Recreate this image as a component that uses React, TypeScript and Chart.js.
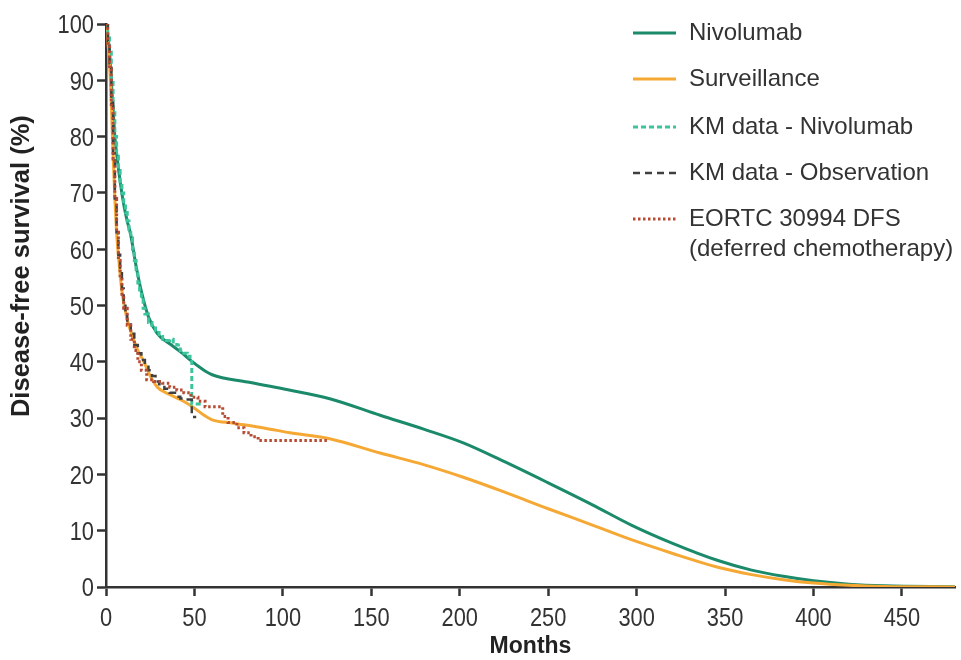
import React, { useEffect, useRef } from "react";
import { Chart, registerables } from "chart.js";

Chart.register(...registerables);

// ---- axis ticks ----
const xTickValues = [0, 50, 100, 150, 200, 250, 300, 350, 400, 450];
const yTickValues = [0, 10, 20, 30, 40, 50, 60, 70, 80, 90, 100];

// ---- axis titles ----
const xTitle = "Months";
const yTitle = "Disease-free survival (%)";

// ---- series labels ----
const seriesLabels = [
  "Nivolumab",
  "Surveillance",
  "KM data - Nivolumab",
  "KM data - Observation",
  "EORTC 30994 DFS\n(deferred chemotherapy)",
];

// ---- Nivolumab model curve ----
const nivoMonths = [0, 1, 2, 3, 4, 5, 6, 8, 10, 12, 14, 17, 20, 24, 29, 36, 42, 48, 54, 60, 80, 100, 127, 155, 180, 202, 225, 250, 275, 297, 320, 346, 365, 383, 400, 420, 440, 480];
const nivoDfs = [100, 98, 95, 90, 85, 80, 77, 72, 68, 65, 62.5, 57, 52.5, 48, 45, 43.2, 41.8, 40.2, 38.8, 37.7, 36.4, 35.2, 33.4, 30.5, 28, 25.6, 22.3, 18.5, 14.6, 11, 7.8, 4.7, 3, 1.9, 1.1, 0.5, 0.2, 0.05];

// ---- Surveillance model curve ----
const survMonths = [0, 1, 2, 3, 4, 5, 6, 7, 9, 12, 15, 18, 21, 25, 29, 36, 42, 48, 55, 60, 72, 90, 104, 127, 155, 180, 202, 225, 250, 275, 297, 320, 346, 365, 383, 400, 420, 440, 480];
const survDfs = [100, 97, 93, 86, 77, 69, 63, 59, 52.5, 47.5, 44.5, 42, 40.3, 37.5, 35.5, 34.2, 33.3, 32.2, 30.6, 29.7, 29.1, 28.2, 27.4, 26.3, 23.8, 21.7, 19.5, 16.9, 13.9, 11, 8.4, 6, 3.5, 2.2, 1.3, 0.7, 0.3, 0.1, 0];

// ---- KM data - Nivolumab ----
const kmNivoMonths = [0, 1, 2, 3, 4, 5, 6, 7, 8, 9, 10, 11, 12, 13, 14, 15, 16, 17, 18, 19, 20, 21, 22, 24, 26, 28, 30, 32, 34, 36, 38, 40, 42, 44, 46, 47.5, 48.5, 54];
const kmNivoDfs = [100, 98, 95, 90, 85, 80, 76.5, 74, 72, 70, 68, 66.5, 65, 63.5, 62, 60, 58, 56, 54, 52.5, 51, 49.5, 48.5, 47, 46, 45.5, 44.5, 44, 43.8, 44, 43.5, 43, 42, 41.5, 41, 40.5, 32.5, 32.5];

// ---- KM data - Observation ----
const kmObsMonths = [0, 1, 2, 3, 4, 5, 6, 7, 8, 9, 10, 11, 12, 14, 16, 18, 20, 22, 24, 26, 28, 30, 33, 36, 39, 42, 45, 48.5, 51];
const kmObsDfs = [100, 97, 93, 86, 77, 69, 63, 59, 56, 53, 50.5, 48.5, 47, 45, 43, 41.5, 40.3, 39.5, 38.5, 37.5, 36.5, 36, 35.2, 34.5, 33.8, 33.5, 33.3, 30.2, 30.2];

// ---- EORTC 30994 DFS (deferred chemotherapy) ----
const eortcMonths = [0, 1, 2, 3, 4, 5, 6, 7, 8, 9, 10, 12, 14, 16, 18, 20, 23, 27, 32, 36, 40, 44, 48, 52, 56, 66, 69, 74, 78, 82, 86, 126];
const eortcDfs = [100, 96, 92, 85, 76, 69, 63, 58, 55, 52, 49.5, 46.5, 44, 42, 40, 38.5, 36.8, 36.5, 36.2, 35.5, 35, 34.5, 33.7, 33, 32, 30.3, 29.2, 28.3, 27.4, 26.7, 26, 26];

const TEXT_FONT = '"Liberation Sans", Arial, Helvetica, sans-serif';

function pts(xs: number[], ys: number[]) {
  return xs.map((x, i) => ({ x, y: ys[i] }));
}

export default function App() {
  const canvasRef = useRef<HTMLCanvasElement>(null);

  useEffect(() => {
    const canvas = canvasRef.current;
    if (!canvas) return;

    // legend drawn inside the plot, top-right
    const legendPlugin = {
      id: "insideLegend",
      afterDraw(chart: any) {
        const ctx = chart.ctx;
        const area = chart.chartArea;
        const x0 = area.right - 322;
        const x1 = area.right - 279;
        const tx = area.right - 266;
        const rowY = [33, 79, 127, 173, 219];
        ctx.save();
        chart.data.datasets.forEach((ds: any, i: number) => {
          const y = rowY[i];
          ctx.strokeStyle = ds.borderColor;
          ctx.lineWidth = ds.borderWidth;
          ctx.setLineDash(ds.borderDash || []);
          ctx.beginPath();
          ctx.moveTo(x0, y);
          ctx.lineTo(x1, y);
          ctx.stroke();
          ctx.setLineDash([]);
          ctx.fillStyle = "#333";
          ctx.font = "24px " + TEXT_FONT;
          ctx.textBaseline = "middle";
          ctx.textAlign = "left";
          String(ds.label)
            .split("\n")
            .forEach((t: string, j: number) => ctx.fillText(t, tx, y + j * 30));
        });
        ctx.restore();
      },
    };

    // condensed tick labels and the y-axis title
    const axisTextPlugin = {
      id: "axisText",
      afterDraw(chart: any) {
        const ctx = chart.ctx;
        const xs = chart.scales.x;
        const ys = chart.scales.y;
        const sx = 0.84;
        ctx.save();
        ctx.fillStyle = "#333";
        ctx.font = "26px " + TEXT_FONT;
        ctx.textBaseline = "alphabetic";
        xs.ticks.forEach((t: any) => {
          const px = xs.getPixelForValue(t.value);
          ctx.save();
          ctx.translate(px, xs.top + 39);
          ctx.scale(sx, 1);
          ctx.textAlign = "center";
          ctx.fillText(String(t.value), 0, 0);
          ctx.restore();
        });
        ys.ticks.forEach((t: any) => {
          const py = ys.getPixelForValue(t.value);
          ctx.save();
          ctx.translate(ys.right - 12, py + 9.3);
          ctx.scale(sx, 1);
          ctx.textAlign = "right";
          ctx.fillText(String(t.value), 0, 0);
          ctx.restore();
        });
        // y title (rotated)
        ctx.save();
        ctx.fillStyle = "#222";
        ctx.font = "bold 25.5px " + TEXT_FONT;
        ctx.translate(22, ys.getPixelForValue(57));
        ctx.rotate(-Math.PI / 2);
        ctx.textAlign = "center";
        ctx.textBaseline = "middle";
        ctx.fillText(yTitle, 0, 0);
        ctx.restore();
        ctx.restore();
      },
    };

    const axisCommon = {
      grid: {
        display: true,
        drawOnChartArea: false,
        drawTicks: true,
        tickLength: 9,
        tickWidth: 2.5,
        tickColor: "#333",
        color: "#333",
      },
      border: { display: true, color: "#333", width: 2.5 },
    };

    const chart = new Chart(canvas, {
      type: "line",
      data: {
        datasets: [
          {
            label: seriesLabels[0],
            data: pts(nivoMonths, nivoDfs),
            borderColor: "#1b8a6b",
            borderWidth: 3,
            pointRadius: 0,
            cubicInterpolationMode: "monotone",
            order: 5,
          },
          {
            label: seriesLabels[1],
            data: pts(survMonths, survDfs),
            borderColor: "#f5a833",
            borderWidth: 3,
            pointRadius: 0,
            cubicInterpolationMode: "monotone",
            order: 4,
          },
          {
            label: seriesLabels[2],
            data: pts(kmNivoMonths, kmNivoDfs),
            borderColor: "#3cc49c",
            borderWidth: 3,
            borderDash: [5, 3],
            pointRadius: 0,
            stepped: "before",
            order: 3,
          },
          {
            label: seriesLabels[3],
            data: pts(kmObsMonths, kmObsDfs),
            borderColor: "#404040",
            borderWidth: 2.5,
            borderDash: [7, 5],
            pointRadius: 0,
            stepped: "before",
            order: 2,
          },
          {
            label: seriesLabels[4],
            data: pts(eortcMonths, eortcDfs),
            borderColor: "#b64a32",
            borderWidth: 3,
            borderDash: [2.5, 2.5],
            pointRadius: 0,
            stepped: "before",
            order: 1,
          },
        ] as any,
      },
      options: {
        responsive: false,
        maintainAspectRatio: false,
        animation: false,
        layout: { padding: { top: 24, right: 6, bottom: 0, left: 0 } },
        plugins: {
          legend: { display: false },
          tooltip: { enabled: false },
        },
        scales: {
          x: {
            type: "linear",
            min: 0,
            max: 480,
            afterBuildTicks: (s: any) => {
              s.ticks = xTickValues.map((v) => ({ value: v }));
            },
            afterFit: (s: any) => {
              s.height = 73;
            },
            ticks: { display: false, autoSkip: false, maxRotation: 0 },
            title: {
              display: true,
              text: xTitle,
              color: "#222",
              font: { family: TEXT_FONT, size: 23, weight: "bold" },
              padding: { top: 0, bottom: 0 },
            },
            ...axisCommon,
          },
          y: {
            type: "linear",
            min: 0,
            max: 100,
            afterBuildTicks: (s: any) => {
              s.ticks = yTickValues.map((v) => ({ value: v }));
            },
            afterFit: (s: any) => {
              s.width = 106;
            },
            ticks: { display: false, autoSkip: false },
            title: { display: false },
            ...axisCommon,
          },
        } as any,
      },
      plugins: [legendPlugin, axisTextPlugin],
    });

    return () => chart.destroy();
  }, []);

  return (
    <div style={{ position: "absolute", left: 0, top: 0, width: 961, height: 660, background: "#fff" }}>
      <canvas ref={canvasRef} width={961} height={660} style={{ display: "block" }} />
    </div>
  );
}
